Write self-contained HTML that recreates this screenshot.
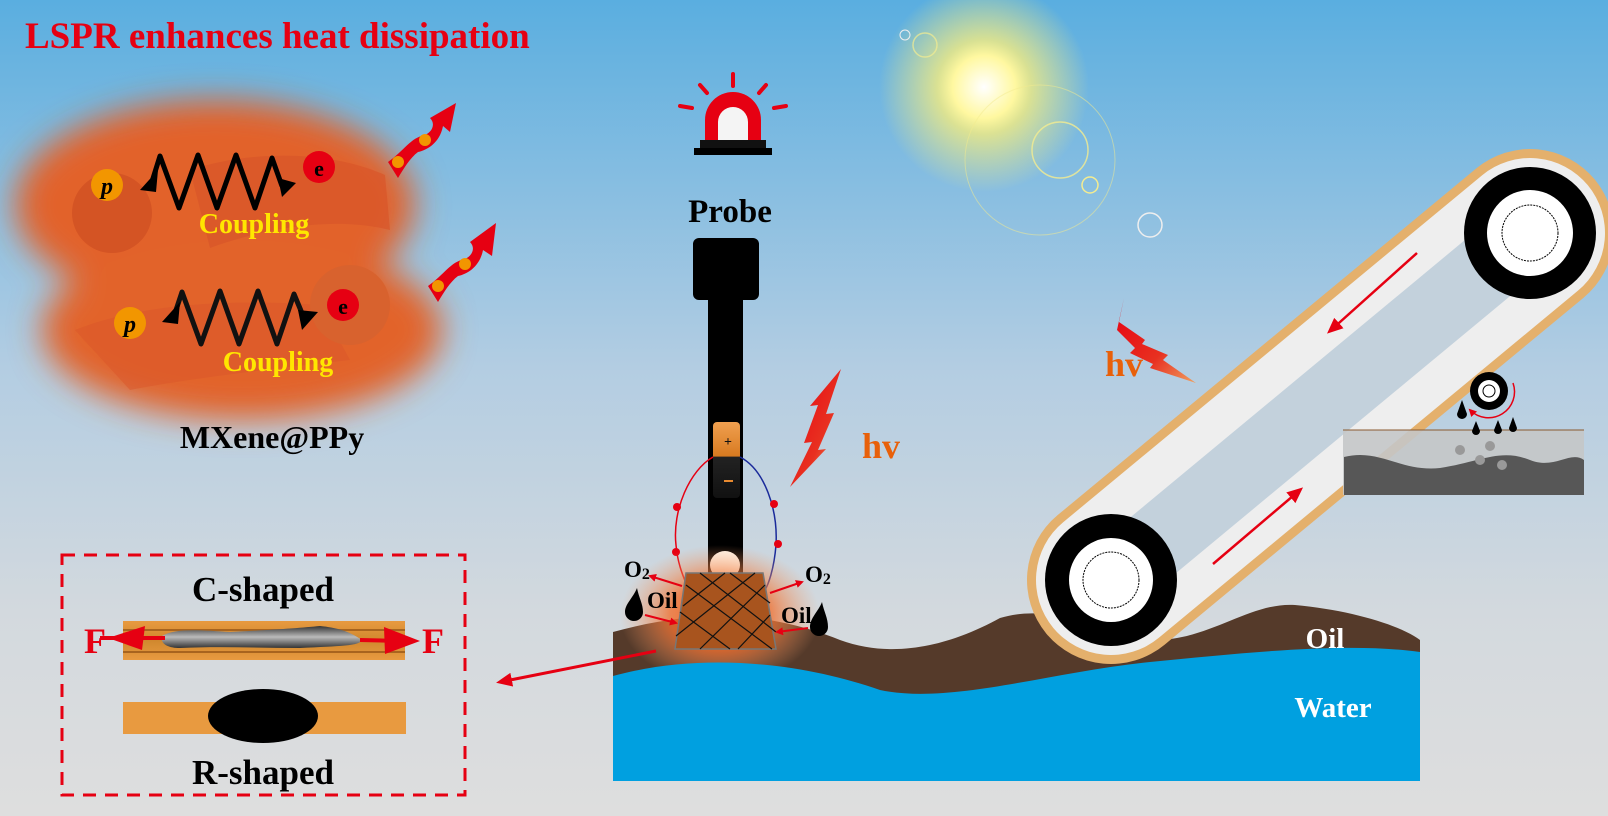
<!DOCTYPE html>
<html><head><meta charset="utf-8"><style>
html,body{margin:0;padding:0;}
svg{display:block;}
text{font-family:"Liberation Serif",serif;font-weight:bold;}
</style></head><body>
<svg width="1608" height="816" viewBox="0 0 1608 816" xmlns="http://www.w3.org/2000/svg">
<defs>
<linearGradient id="sky" x1="0" y1="0" x2="0" y2="1">
<stop offset="0" stop-color="#5aaee0"/><stop offset="0.45" stop-color="#b3cde2"/><stop offset="0.75" stop-color="#d3d9de"/><stop offset="1" stop-color="#dedede"/>
</linearGradient>
<radialGradient id="mglow" cx="0.5" cy="0.5" r="0.5">
<stop offset="0" stop-color="#f05a10"/><stop offset="0.5" stop-color="#f07030" stop-opacity="0.8"/><stop offset="1" stop-color="#f0a070" stop-opacity="0"/>
</radialGradient>
<radialGradient id="sun" cx="0.5" cy="0.5" r="0.5">
<stop offset="0" stop-color="#ffffff"/><stop offset="0.3" stop-color="#fff8a0"/><stop offset="0.45" stop-color="#f4ec80" stop-opacity="0.8"/><stop offset="1" stop-color="#f4ec80" stop-opacity="0"/>
</radialGradient>
<linearGradient id="bat" x1="0" y1="0" x2="0" y2="1">
<stop offset="0" stop-color="#f0a050"/><stop offset="0.45" stop-color="#d87a20"/><stop offset="0.46" stop-color="#222"/><stop offset="1" stop-color="#111"/>
</linearGradient>
<linearGradient id="tube" x1="0" y1="0" x2="0" y2="1">
<stop offset="0" stop-color="#e89a40"/><stop offset="0.5" stop-color="#d0882e"/><stop offset="1" stop-color="#e89a40"/>
</linearGradient>
<linearGradient id="oilg" x1="0" y1="0" x2="0" y2="1">
<stop offset="0" stop-color="#333"/><stop offset="0.5" stop-color="#bbb"/><stop offset="1" stop-color="#333"/>
</linearGradient>
<linearGradient id="bolt" x1="0" y1="0" x2="1" y2="1">
<stop offset="0" stop-color="#e60012"/><stop offset="0.6" stop-color="#e83020"/><stop offset="1" stop-color="#f0a060"/>
</linearGradient>
<filter id="blur" x="-30%" y="-30%" width="160%" height="160%"><feGaussianBlur stdDeviation="16"/></filter>
<marker id="ah" markerWidth="8" markerHeight="8" refX="6" refY="4" orient="auto" markerUnits="userSpaceOnUse"><path d="M0,0 L8,4 L0,8 Z" fill="#e60012"/></marker>
<marker id="ahb" markerWidth="16" markerHeight="14" refX="12" refY="7" orient="auto" markerUnits="userSpaceOnUse"><path d="M0,0 L16,7 L0,14 Z" fill="#e60012"/></marker>
</defs>
<rect width="1608" height="816" fill="url(#sky)"/>

<text x="25" y="48" font-size="37" fill="#e60012">LSPR enhances heat dissipation</text>

<g filter="url(#blur)">
<ellipse cx="215" cy="205" rx="200" ry="105" fill="#e2622a"/>
<ellipse cx="242" cy="330" rx="200" ry="90" fill="#e2642c"/>
</g>
<path d="M190,170 C250,150 330,150 385,175 L390,230 C330,215 260,230 210,248 Z" fill="#d9552a" opacity="0.7"/>
<path d="M75,330 C150,300 250,300 320,305 L350,360 C260,370 180,380 130,390 Z" fill="#d9552a" opacity="0.5"/>
<circle cx="112" cy="213" r="40" fill="#d45424"/>
<circle cx="350" cy="305" r="40" fill="#d8622e"/>

<polyline points="150,188 160,156 179,208 198,155 217,208 236,155 255,208 272,158 282,186" fill="none" stroke="#000" stroke-width="5" stroke-linejoin="round"/>
<path d="M140,190 L158,170 L156,192 Z" fill="#000"/>
<path d="M296,183 L278,178 L282,197 Z" fill="#000"/>
<circle cx="107" cy="185" r="16" fill="#f29600"/><text x="107" y="194" font-size="24" text-anchor="middle" font-style="italic">p</text>
<circle cx="319" cy="167" r="16" fill="#e60012"/><text x="319" y="176" font-size="22" text-anchor="middle">e</text>
<text x="254" y="233" font-size="28" fill="#ffe600" text-anchor="middle">Coupling</text>

<polyline points="172,322 182,292 201,344 220,291 239,344 258,291 277,344 294,294 304,318" fill="none" stroke="#111" stroke-width="5" stroke-linejoin="round"/>
<path d="M162,322 L180,302 L178,324 Z" fill="#000"/>
<path d="M318,312 L298,310 L302,330 Z" fill="#000"/>
<circle cx="130" cy="323" r="16" fill="#f29600"/><text x="130" y="332" font-size="24" text-anchor="middle" font-style="italic">p</text>
<circle cx="343" cy="305" r="16" fill="#e60012"/><text x="343" y="314" font-size="22" text-anchor="middle">e</text>
<text x="278" y="371" font-size="28" fill="#ffe600" text-anchor="middle">Coupling</text>

<g fill="#e60012">
<path d="M388,162 C405,150 410,138 425,135 C432,132 436,124 430,118 L456,103 L450,132 L443,126 C440,142 428,150 418,152 C410,158 404,168 398,178 Z"/>
<path d="M428,286 C445,274 450,262 465,259 C472,256 476,248 470,242 L496,223 L492,256 L483,250 C480,266 468,274 458,276 C450,282 444,292 438,302 Z"/>
</g>
<circle cx="398" cy="162" r="6" fill="#f29600"/><circle cx="425" cy="140" r="6" fill="#f29600"/>
<circle cx="438" cy="286" r="6" fill="#f29600"/><circle cx="465" cy="264" r="6" fill="#f29600"/>

<text x="272" y="448" font-size="32" text-anchor="middle">MXene@PPy</text>

<rect x="62" y="555" width="403" height="240" fill="none" stroke="#e60012" stroke-width="3" stroke-dasharray="13,9"/>
<text x="263" y="601" font-size="35" text-anchor="middle">C-shaped</text>
<rect x="123" y="621" width="282" height="39" fill="url(#tube)"/>
<line x1="123" y1="630" x2="405" y2="630" stroke="#a8641e" stroke-width="2"/>
<line x1="123" y1="652" x2="405" y2="652" stroke="#a8641e" stroke-width="2"/>
<path d="M162,636 C175,628 200,630 230,632 C270,630 300,628 320,626 C340,628 350,632 362,640 C360,646 340,646 300,648 C260,648 220,646 180,648 C168,648 160,644 162,636 Z" fill="url(#oilg)"/>
<line x1="165" y1="638" x2="100" y2="638" stroke="#e60012" stroke-width="4"/>
<path d="M108,638 L145,626 L142,650 Z" fill="#e60012"/>
<line x1="360" y1="640" x2="400" y2="641" stroke="#e60012" stroke-width="4"/>
<path d="M420,641 L384,627 L385,654 Z" fill="#e60012"/>
<text x="95" y="653" font-size="36" fill="#e60012" text-anchor="middle">F</text>
<text x="433" y="653" font-size="36" fill="#e60012" text-anchor="middle">F</text>
<rect x="123" y="702" width="283" height="32" fill="#e89a40"/>
<ellipse cx="263" cy="716" rx="55" ry="27" fill="#000"/>
<text x="263" y="784" font-size="35" text-anchor="middle">R-shaped</text>

<circle cx="984" cy="87" r="105" fill="url(#sun)"/>
<circle cx="1060" cy="150" r="28" fill="none" stroke="#f4ec90" stroke-width="1.5" opacity="0.8"/>
<circle cx="1090" cy="185" r="8" fill="none" stroke="#f4ec90" stroke-width="1.5"/>
<circle cx="1150" cy="225" r="12" fill="none" stroke="#eee" stroke-width="1.5"/>
<circle cx="925" cy="45" r="12" fill="none" stroke="#f4ec90" stroke-width="1.5" opacity="0.7"/>
<circle cx="905" cy="35" r="5" fill="none" stroke="#eee" stroke-width="1"/>
<circle cx="1040" cy="160" r="75" fill="none" stroke="#f4ec90" stroke-width="1" opacity="0.5"/>

<g>
<path d="M705,140 L705,120 A28,28 0 0 1 761,120 L761,140 Z" fill="#e60012"/>
<path d="M718,140 L718,122 A15,15 0 0 1 748,122 L748,140 Z" fill="#f4f4f4"/>
<rect x="700" y="140" width="66" height="8" fill="#111"/>
<rect x="694" y="148" width="78" height="7" fill="#000"/>
<g stroke="#e60012" stroke-width="4" stroke-linecap="round">
<line x1="733" y1="74" x2="733" y2="86"/><line x1="700" y1="85" x2="707" y2="93"/><line x1="766" y1="85" x2="759" y2="93"/>
<line x1="680" y1="106" x2="692" y2="108"/><line x1="786" y1="106" x2="774" y2="108"/>
</g>
</g>
<text x="730" y="222" font-size="33" text-anchor="middle">Probe</text>

<rect x="693" y="238" width="66" height="62" rx="6" fill="#000"/>
<rect x="708" y="296" width="35" height="280" fill="#000"/>
<ellipse cx="725" cy="565" rx="15" ry="14" fill="#fff8ee"/>
<rect x="713" y="422" width="27" height="76" rx="4" fill="url(#bat)"/>
<text x="728" y="446" font-size="14" fill="#111" text-anchor="middle" font-family="Liberation Sans">+</text>
<rect x="724" y="480" width="9" height="2" fill="#e88a30"/>
<path d="M713,457 C690,470 672,510 676,545 C678,570 688,585 690,595" fill="none" stroke="#e60012" stroke-width="1.5"/>
<path d="M740,457 C765,470 778,510 776,545 C774,570 768,585 765,590" fill="none" stroke="#1a2a9a" stroke-width="1.5"/>
<g fill="#e60012"><circle cx="677" cy="507" r="4"/><circle cx="676" cy="552" r="4"/><circle cx="774" cy="504" r="4"/><circle cx="778" cy="544" r="4"/></g>

<path d="M613,632 C700,608 770,612 840,640 C900,662 960,640 1000,618 C1060,600 1110,640 1155,640 C1210,640 1250,602 1295,605 C1350,610 1400,625 1420,640 L1420,781 L613,781 Z" fill="#553a2a"/>
<ellipse cx="720" cy="615" rx="100" ry="70" fill="url(#mglow)"/>
<path d="M613,676 C700,652 800,662 880,690 C950,705 1050,672 1150,662 C1250,652 1350,642 1420,652 L1420,781 L613,781 Z" fill="#00a0e0"/>
<text x="1325" y="648" font-size="29" fill="#fff" text-anchor="middle">Oil</text>
<text x="1333" y="717" font-size="29" fill="#fff" text-anchor="middle">Water</text>

<path d="M686,573 L763,573 L776,649 L675,649 Z" fill="#a8541e" stroke="#777" stroke-width="1.5"/>
<g stroke="#111" stroke-width="1.2" fill="none">
<line x1="700" y1="573" x2="776" y2="632"/><line x1="686" y1="585" x2="772" y2="649"/><line x1="680" y1="612" x2="730" y2="649"/><line x1="730" y1="573" x2="770" y2="603"/>
<line x1="755" y1="573" x2="676" y2="636"/><line x1="765" y1="585" x2="700" y2="649"/><line x1="770" y1="615" x2="738" y2="649"/><line x1="725" y1="573" x2="683" y2="606"/>
</g>
<text x="624" y="577" font-size="23">O<tspan font-size="16" dy="2">2</tspan></text>
<text x="805" y="582" font-size="23">O<tspan font-size="16" dy="2">2</tspan></text>
<text x="647" y="608" font-size="23">Oil</text>
<text x="781" y="623" font-size="23">Oil</text>
<path d="M637,588 C633,598 625,604 625,612 A9,9 0 0 0 643,612 C643,604 639,598 637,588 Z" fill="#000"/>
<path d="M822,602 C818,612 810,618 810,627 A9,9 0 0 0 828,627 C828,618 824,612 822,602 Z" fill="#000"/>
<g stroke="#e60012" stroke-width="2" marker-end="url(#ah)">
<line x1="682" y1="586" x2="650" y2="576"/>
<line x1="645" y1="615" x2="676" y2="623"/>
<line x1="770" y1="593" x2="802" y2="582"/>
<line x1="808" y1="628" x2="777" y2="632"/>
</g>
<line x1="656" y1="651" x2="500" y2="682" stroke="#e60012" stroke-width="3" marker-end="url(#ahb)"/>

<path d="M841,369 L826,414 L834,413 L818,450 L826,449 L790,487 L812,442 L804,443 L818,405 L810,406 Z" fill="url(#bolt)"/>
<text x="862" y="458" font-size="36" fill="#e8600a">hv</text>

<line x1="1111" y1="580" x2="1530" y2="233" stroke="#e4b06c" stroke-width="168" stroke-linecap="round"/>
<line x1="1111" y1="580" x2="1530" y2="233" stroke="#eeeeee" stroke-width="150" stroke-linecap="round"/>
<line x1="1145" y1="552" x2="1496" y2="261" stroke="#c3d1dc" stroke-width="72"/>
<line x1="1417" y1="253" x2="1330" y2="331" stroke="#e60012" stroke-width="2.5" marker-end="url(#ahb)"/>
<line x1="1213" y1="564" x2="1300" y2="490" stroke="#e60012" stroke-width="2.5" marker-end="url(#ahb)"/>
<circle cx="1530" cy="233" r="66" fill="#000"/><circle cx="1530" cy="233" r="43" fill="#fff"/><circle cx="1530" cy="233" r="28" fill="none" stroke="#000" stroke-width="1" stroke-dasharray="2,1"/>
<circle cx="1111" cy="580" r="66" fill="#000"/><circle cx="1111" cy="580" r="42" fill="#fff"/><circle cx="1111" cy="580" r="28" fill="none" stroke="#000" stroke-width="1" stroke-dasharray="2,1"/>

<path d="M1124,298 L1119,322 L1145,340 L1142,344 L1168,355 L1163,360 L1196,383 L1150,368 L1153,364 L1130,353 L1135,348 L1117,330 Z" fill="url(#bolt)"/>
<text x="1105" y="376" font-size="36" fill="#e8600a">hv</text>

<rect x="1343" y="430" width="241" height="65" fill="#c4c6c8" opacity="0.9"/>
<line x1="1343" y1="430" x2="1584" y2="430" stroke="#8a5a30" stroke-width="1"/>
<path d="M1344,457 C1380,448 1400,472 1440,468 C1480,462 1500,448 1530,460 C1555,470 1570,450 1584,460 L1584,495 L1344,495 Z" fill="#575757"/>
<g fill="#999"><circle cx="1460" cy="450" r="5"/><circle cx="1480" cy="460" r="5"/><circle cx="1490" cy="446" r="5"/><circle cx="1502" cy="465" r="5"/></g>
<circle cx="1489" cy="391" r="19" fill="#000"/><circle cx="1489" cy="391" r="11" fill="#fff"/><circle cx="1489" cy="391" r="6" fill="none" stroke="#000" stroke-width="1"/>
<path d="M1513,383 A26,26 0 0 1 1470,410" fill="none" stroke="#e60012" stroke-width="1.5" marker-end="url(#ah)"/>
<g fill="#000"><path d="M1462,400 L1457,414 A5,5 0 0 0 1467,414 Z"/><path d="M1476,421 L1472,431 A4,4 0 0 0 1480,431 Z"/><path d="M1498,420 L1494,430 A4,4 0 0 0 1502,430 Z"/><path d="M1513,417 L1509,428 A4,4 0 0 0 1517,428 Z"/></g>
</svg>
</body></html>
